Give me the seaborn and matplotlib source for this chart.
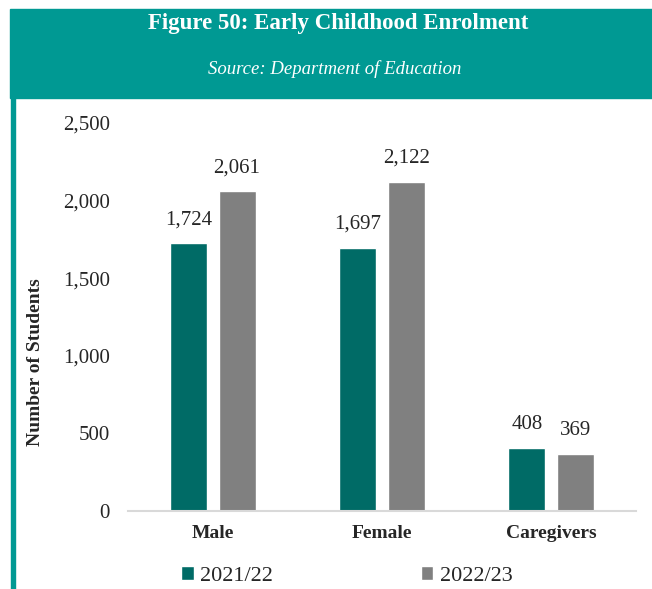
import pandas as pd
import matplotlib.pyplot as plt
import seaborn as sns
from matplotlib.patches import Rectangle

# Data
categories = ["Male", "Female", "Caregivers"]
years = ["2021/22", "2022/23"]
values_2021 = [1724, 1697, 408]
values_2022 = [2061, 2122, 369]

df = pd.DataFrame({
    "category": categories * 2,
    "year": [years[0]] * 3 + [years[1]] * 3,
    "students": values_2021 + values_2022,
})

sns.set_theme(style="white")
plt.rcParams["font.family"] = ["Liberation Serif", "DejaVu Serif"]

teal = "#009993"
palette = {"2021/22": "#006b66", "2022/23": "#808080"}

fig = plt.figure(figsize=(6.52, 5.89), dpi=100)
W, H = 652, 589

# header band and left rule
fig.patches.append(Rectangle((10 / W, 1 - 98 / H), 1, 89 / H,
                             transform=fig.transFigure, color=teal, zorder=0))
fig.patches.append(Rectangle((11 / W, 0), 4 / W, 1 - 98 / H,
                             transform=fig.transFigure, color=teal, zorder=0))
fig.text(338 / W, 1 - 23 / H, "Figure 50: Early Childhood Enrolment",
         ha="center", va="center", color="white", fontsize=16.5, fontweight="bold")
fig.text(335 / W, 1 - 69 / H, "Source: Department of Education",
         ha="center", va="center", color="white", fontsize=13.5, style="italic")

ax = fig.add_axes([128 / W, 1 - 511 / H, (636 - 128) / W, (511 - 123) / H])
sns.barplot(data=df, x="category", y="students", hue="year", palette=palette,
            width=0.575, gap=0.24, ax=ax, saturation=1, legend=True)

ax.set_ylim(0, 2500)
ax.set_xlim(-0.5, 2.5)
ax.set_yticks([0, 500, 1000, 1500, 2000, 2500])
ax.set_yticklabels(["0", "500", "1,000", "1,500", "2,000", "2,500"])
ax.tick_params(axis="y", labelsize=15, pad=13, length=0)
ax.tick_params(axis="x", labelsize=14, pad=10, length=0)
for lab in ax.get_xticklabels():
    lab.set_fontweight("bold")
ax.set_xlabel("")
ax.set_ylabel("Number of Students", fontsize=14, fontweight="bold")
ax.yaxis.set_label_coords(44 / W, 1 - 362 / H, transform=fig.transFigure)
for s in ["top", "right", "left"]:
    ax.spines[s].set_visible(False)
ax.spines["bottom"].set_color("#d9d9d9")
ax.spines["bottom"].set_linewidth(1.5)

for cont in ax.containers:
    ax.bar_label(cont, labels=[f"{v:,.0f}" for v in cont.datavalues],
                 padding=10, fontsize=15)

handles, labels = ax.get_legend_handles_labels()
ax.get_legend().remove()
fig.legend(handles, labels, loc="center", bbox_to_anchor=(347 / W, 1 - 576 / H),
           ncol=2, frameon=False, fontsize=16, columnspacing=6.65,
           handlelength=0.55, handleheight=0.55, handletextpad=0.3)

plt.savefig("out.png", dpi=100)
plt.close()
